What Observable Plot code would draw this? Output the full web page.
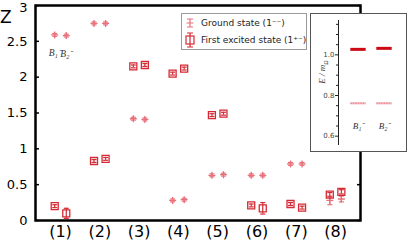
<!DOCTYPE html>
<html><head><meta charset="utf-8">
<script src="https://cdn.jsdelivr.net/npm/d3@7"></script>
<script src="https://cdn.jsdelivr.net/npm/@observablehq/plot@0.6"></script>
<style>
body{margin:0;background:#fff;}
#wrap{position:relative;width:407px;height:242px;overflow:hidden;font-family:"DejaVu Sans",sans-serif;}
#main{position:absolute;left:0;top:-8px;}
#zlab{position:absolute;left:0px;top:7px;font-size:17px;font-family:"DejaVu Sans",sans-serif;color:#000;}
#legend{position:absolute;left:181px;top:13px;width:124px;height:35px;border:1px solid #9a9a9a;background:#fff;font-size:9px;color:#222;}
#legend .row{position:absolute;left:0;display:flex;align-items:center;white-space:nowrap;}
#legend svg{display:block;}
#inset{position:absolute;left:310px;top:13px;width:95px;height:137px;border:1px solid #555;background:#fff;}
#ylab{position:absolute;left:323px;top:72px;font-family:"Liberation Serif",serif;font-style:italic;font-size:9px;color:#333;transform:translate(-50%,-50%) rotate(-90deg);transform-origin:center;white-space:nowrap;}
</style></head><body><div id="wrap"><div id="main"></div><div id="zlab">Z</div><div id="legend"></div><div id="inset"></div></div>
<script>
// ---- data ----
const categories = ["(1)","(2)","(3)","(4)","(5)","(6)","(7)","(8)"];
const groundB1 = [2.59, 2.75, 1.42, 0.28, 0.63, 0.63, 0.79, 0.28];
const groundB2 = [2.58, 2.75, 1.41, 0.29, 0.64, 0.63, 0.79, 0.30];
const groundErrB1 = [0.02, 0.02, 0.02, 0.02, 0.02, 0.02, 0.02, 0.06];
const groundErrB2 = [0.02, 0.02, 0.02, 0.02, 0.02, 0.02, 0.02, 0.04];
const excitedB1 = [0.20, 0.83, 2.15, 2.05, 1.47, 0.21, 0.23, 0.36];
const excitedB2 = [0.10, 0.86, 2.17, 2.12, 1.49, 0.17, 0.18, 0.40];
const excitedErrB1 = [0.02, 0.02, 0.02, 0.02, 0.02, 0.02, 0.02, 0.03];
const excitedErrB2 = [0.07, 0.02, 0.02, 0.02, 0.02, 0.08, 0.02, 0.03];
const yTicks = [0, 0.5, 1, 1.5, 2, 2.5, 3];
const pointLabels = ["B₁⁻", "B₂⁻"];
const legendLabels = ["Ground state (1⁻⁻)", "First excited state (1⁺⁻)"];

const insetStates = ["B₁⁻", "B₂⁻"];
const insetGround = [0.762, 0.762];
const insetExcited = [1.027, 1.032];
const insetMajor = [0.6, 0.8, 1.0];
const insetMinor = [0.65, 0.7, 0.75, 0.85, 0.9, 0.95, 1.05, 1.1, 1.15];

// ---- style ----
const cGround = "#e8707a";
const cExcited = "#d42a35";
const off = 0.147;
const xDomain = [0.364, 8.634];

function rows(vals, errs, side) {
  return vals.map((v, i) => ({x: i + 1 + side * off, v, e: errs[i]}));
}
const ground = [...rows(groundB1, groundErrB1, -1), ...rows(groundB2, groundErrB2, 1)];
const excited = [...rows(excitedB1, excitedErrB1, -1), ...rows(excitedB2, excitedErrB2, 1)];

const sym = (fn) => ({draw(ctx) { fn(ctx); }});
const plusSym = sym(c => { c.moveTo(-3.5, 0); c.lineTo(3.5, 0); c.moveTo(0, -3.5); c.lineTo(0, 3.5); });
const capSym = sym(c => { c.moveTo(-2.5, 0); c.lineTo(2.5, 0); });
const squareSym = sym(c => { c.moveTo(-3.5, -3.5); c.lineTo(3.5, -3.5); c.lineTo(3.5, 3.5); c.lineTo(-3.5, 3.5); c.closePath(); });
const tickL = sym(c => { c.moveTo(0, 0); c.lineTo(3.5, 0); });
const tickR = sym(c => { c.moveTo(0, 0); c.lineTo(-3.5, 0); });

function errMarks(data, color, markerSym) {
  return [
    Plot.ruleX(data, {x: "x", y1: d => d.v - d.e, y2: d => d.v + d.e, stroke: color, strokeWidth: 1.2}),
    Plot.dot(data, {x: "x", y: d => d.v - d.e, symbol: capSym, fill: "none", stroke: color, strokeWidth: 1.2}),
    Plot.dot(data, {x: "x", y: d => d.v + d.e, symbol: capSym, fill: "none", stroke: color, strokeWidth: 1.2}),
    Plot.dot(data, {x: "x", y: "v", symbol: markerSym, fill: "none", stroke: color, strokeWidth: 1.3})
  ];
}

const yTop = yTicks[yTicks.length - 1];
const main = Plot.plot({
  width: 407, height: 250,
  marginLeft: 35, marginRight: 47, marginTop: 13, marginBottom: 22,
  style: {fontFamily: "DejaVu Sans, sans-serif", color: "#000", background: "transparent"},
  x: {domain: xDomain, axis: null},
  y: {domain: [0, 3], axis: null},
  marks: [
    Plot.axisY(yTicks.filter(t => t !== yTop), {anchor: "left", tickSize: 0, tickPadding: 8, fontSize: 13, tickFormat: d => String(d), label: null, fill: "#000"}),
    Plot.axisY([yTop], {anchor: "left", tickSize: 0, tickPadding: 8, fontSize: 13, dy: 2, tickFormat: d => String(d), label: null, fill: "#000"}),
    Plot.axisX(categories.map((_, i) => i + 1), {anchor: "bottom", tickSize: 0, tickPadding: 5, fontSize: 16, tickFormat: i => categories[i - 1], label: null, fill: "#000"}),
    Plot.dot(yTicks, {x: () => xDomain[0], y: d => d, symbol: tickL, fill: "none", stroke: "#000", strokeWidth: 1.5}),
    Plot.dot(yTicks, {x: () => xDomain[1], y: d => d, symbol: tickR, fill: "none", stroke: "#000", strokeWidth: 1.5}),
    ...errMarks(ground, cGround, plusSym),
    ...errMarks(excited, cExcited, squareSym),
    Plot.text(pointLabels, {x: (d, i) => 1 + (i === 0 ? -off : off), y: (d, i) => (i === 0 ? groundB1[0] : groundB2[0]), dy: 18, text: d => d, fontSize: 9.5, fontStyle: "italic", fontFamily: "Liberation Serif, serif", fill: "#333"}),
    Plot.frame({stroke: "#000", strokeWidth: 2.5})
  ]
});
document.getElementById("main").appendChild(main);

// ---- legend ----
function icon(kind, color) {
  const s = d3.create("svg").attr("width", 14).attr("height", 16);
  const g = s.append("g").attr("stroke", color).attr("fill", "none").attr("stroke-width", 1.2).attr("transform", "translate(7,8)");
  if (kind === "ground") {
    g.append("path").attr("d", "M0,-4V4M-3,-4H3M-3,4H3M-3.5,0H3.5");
  } else {
    g.append("path").attr("d", "M0,-7V7M-3,-7H3M-3,7H3");
    g.append("rect").attr("x", -4).attr("y", -4).attr("width", 8).attr("height", 8);
  }
  return s.node();
}
const leg = document.getElementById("legend");
[["ground", cGround, 1], ["excited", cExcited, 18]].forEach(([k, c, top], i) => {
  const r = document.createElement("div");
  r.className = "row";
  r.style.top = top + "px";
  r.style.left = "1px";
  r.appendChild(icon(k, c));
  const t = document.createElement("span");
  t.textContent = legendLabels[i];
  t.style.marginLeft = "4px";
  r.appendChild(t);
  leg.appendChild(r);
});

// ---- inset ----
const inset = Plot.plot({
  width: 95, height: 137,
  marginLeft: 27, marginRight: 3, marginTop: 6, marginBottom: 7,
  style: {fontFamily: "DejaVu Sans, sans-serif", color: "#333", background: "#fff"},
  x: {type: "band", domain: insetStates, paddingInner: 0, paddingOuter: 0.21, axis: null},
  y: {domain: [0.559, 1.169], axis: null},
  marks: [
    Plot.frame({anchor: "left", stroke: "#222", strokeWidth: 1}),
    Plot.axisY(insetMajor, {anchor: "left", tickSize: 3, tickPadding: 1, fontSize: 7, tickFormat: d3.format(".1f"), label: null, stroke: "#222", fill: "#444"}),
    Plot.axisY(insetMinor, {anchor: "left", tickSize: 2, text: null, label: null, stroke: "#222"}),
    Plot.tickY(insetStates.map((s, i) => ({s, v: insetGround[i]})), {x: "s", y: "v", stroke: "#f6c4c8", strokeWidth: 2.5, inset: 5.3}),
    Plot.tickY(insetStates.map((s, i) => ({s, v: insetGround[i]})), {x: "s", y: "v", stroke: "#e46a76", strokeWidth: 0.8, strokeDasharray: "1.5,1", inset: 5.3}),
    Plot.tickY(insetStates.map((s, i) => ({s, v: insetExcited[i]})), {x: "s", y: "v", stroke: "#cc0a14", strokeWidth: 3, inset: 5.3}),
    Plot.text(insetStates, {x: d => d, y: () => 0.65, text: d => d, fontSize: 9, fontStyle: "italic", fontFamily: "Liberation Serif, serif", fill: "#333"})
  ]
});
document.getElementById("inset").appendChild(inset);
const yl = document.createElement("div");
yl.id = "ylab";
yl.innerHTML = "E / m<sub style='font-size:6px'>Ω</sub>";
document.getElementById("wrap").appendChild(yl);
</script>
</body></html>
